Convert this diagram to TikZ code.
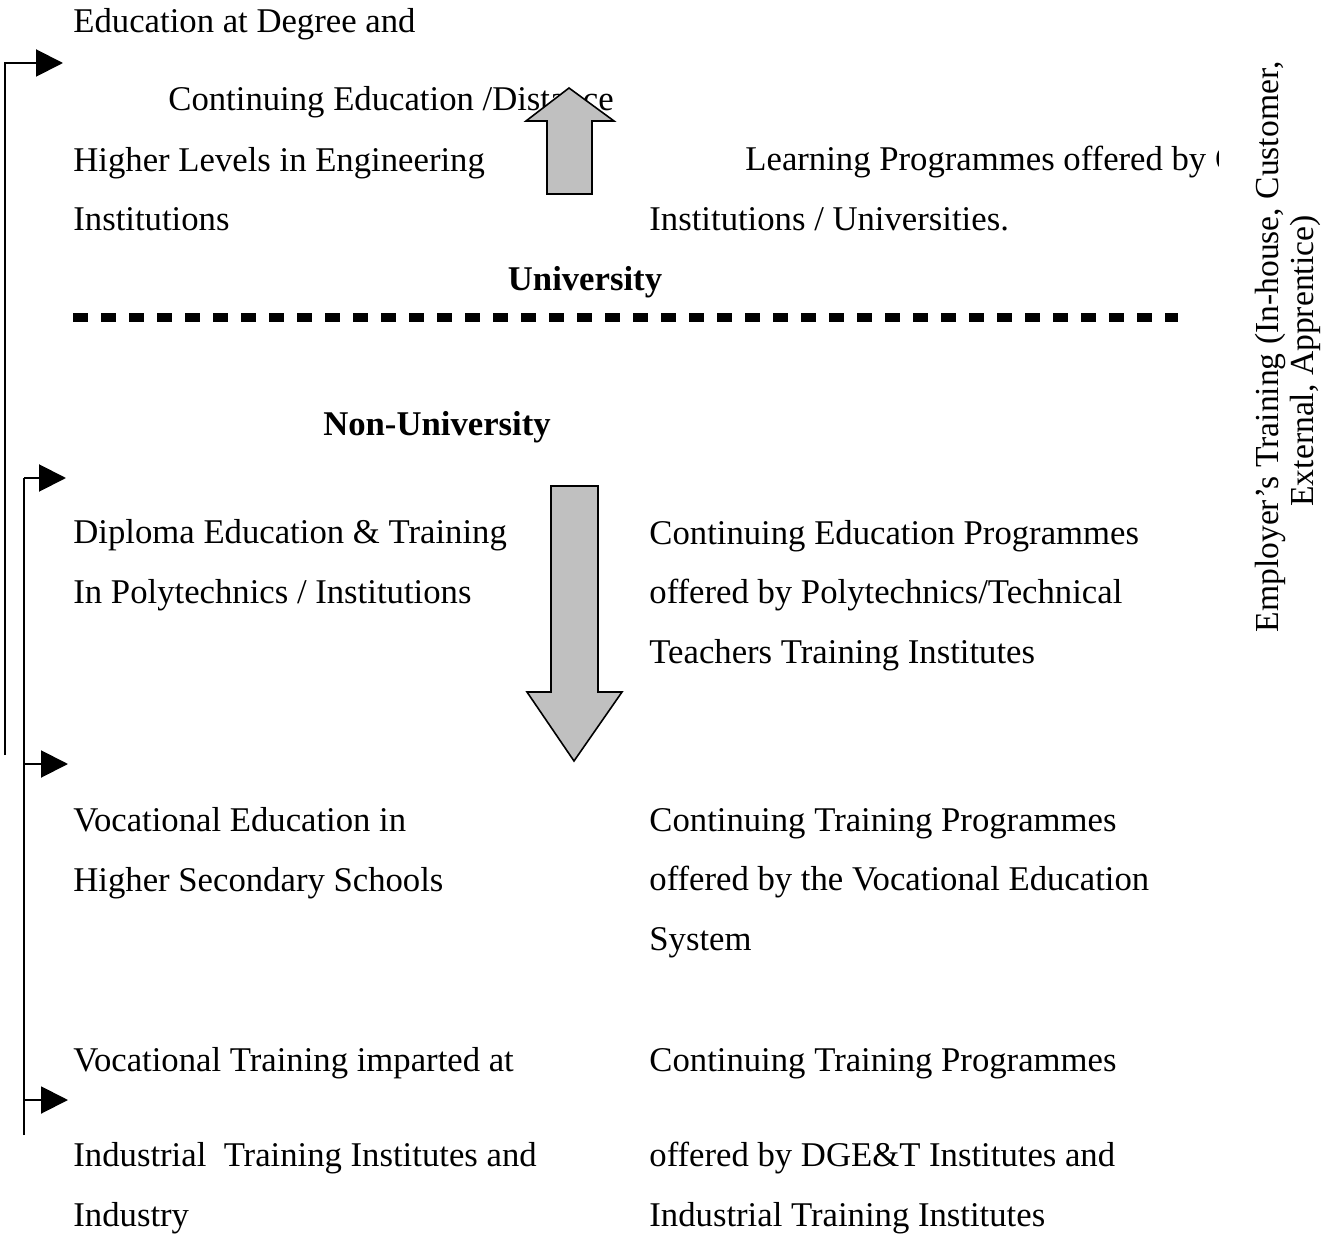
\documentclass[tikz,border=0pt]{standalone}
\usepackage{fontspec}
\setmainfont{Liberation Serif}
\usetikzlibrary{
arrows.meta,
positioning
}
\definecolor{arrowgray}{RGB}{192,192,192}

\begin{document}
\begin{tikzpicture}[
    x=0.5pt, y=-0.5pt,
    >={Triangle[length=13.5pt,width=13.5pt]},
    txt/.style={anchor=base west,
      align=left,
      inner sep=0pt,
      font=\fontsize{17.35}{29.75}\selectfont},
    hdr/.style={txt, anchor=base, font=\fontsize{17.35}{29.75}\selectfont\bfseries},
    side/.style={txt, anchor=base, rotate=90, font=\fontsize{16.8}{17.5}\selectfont},
    feed/.style={->, line width=1pt},
    fat/.style={draw=black, line width=0.8pt, fill=arrowgray, line join=miter},
    divider/.style={line width=4.5pt, dash pattern=on 7.3pt off 6.7pt}
  ]
  \useasboundingbox (0,0) rectangle (1322,1235);

  % university level (multi-line nodes sit on their last line)
  \node[txt] (deg) at (73,33) {Education at Degree and};
  \node[txt] (dist) at (168,111) {Continuing Education /Distance};
  \node[txt] (eng) at (73,231) {Higher Levels in Engineering\\Institutions};
  \begin{scope}
    \clip (0,0) rectangle (1218,1235);
    \node[txt] (learn) at (745,171) {Learning Programmes offered by O};
  \end{scope}
  \node[txt] (univs) at (649,231) {Institutions / Universities.};
  \node[hdr] (uni) at (585,291) {University};

  \coordinate (div-l) at (73,318);
  \coordinate (div-r) at (1178,318);
  \draw[divider] (div-l) -- (div-r);

  % non-university level
  \node[hdr] (nonuni) at (437,436) {Non-University};
  \node[txt] (dip) at (73,603) {Diploma Education \& Training\\In Polytechnics / Institutions};
  \node[txt] (cep) at (649,663) {Continuing Education Programmes\\offered by Polytechnics/Technical\\Teachers Training Institutes};
  \node[txt] (voc) at (73,891) {Vocational Education in\\Higher Secondary Schools};
  \node[txt] (ctp) at (649,950) {Continuing Training Programmes\\offered by the Vocational Education\\System};
  \node[txt] (vti) at (73,1071) {Vocational Training imparted at};
  \node[txt] (ctpb) at (649,1071) {Continuing Training Programmes};
  \node[txt] (iti) at (73,1226) {Industrial~ Training Institutes and\\Industry};
  \node[txt] (dge) at (649,1226) {offered by DGE\&T Institutes and\\Industrial Training Institutes};

  \node[side] (emp1) at (1278,347) {Employer’s Training (In-house, Customer,};
  \node[side] (emp2) at (1313,361) {External, Apprentice)};

  % big arrows
  \draw[fat] (547,194) -- (547,121) -- (526,121) -- (569,88) -- (614,121) -- (592,121) -- (592,194) -- cycle;
  \draw[fat] (551,486) -- (551,692) -- (527,692) -- (574,761) -- (622,692) -- (598,692) -- (598,486) -- cycle;

  % feedback lines
  \coordinate (o-bot) at (5,755);
  \coordinate (o-tip) at (63,63);
  \coordinate (i-bot) at (24,1135);
  \coordinate (i-top) at (24,478);
  \coordinate (a2) at (66,478);
  \coordinate (a3) at (68,764);
  \coordinate (a4) at (68,1100);
  \draw[feed] (o-bot) |- (o-tip);
  \draw[line width=1pt] (i-bot) -- (i-top);
  \draw[feed] (i-top) -- (a2);
  \draw[feed] (i-bot |- a3) -- (a3);
  \draw[feed] (i-bot |- a4) -- (a4);
\end{tikzpicture}
\end{document}
